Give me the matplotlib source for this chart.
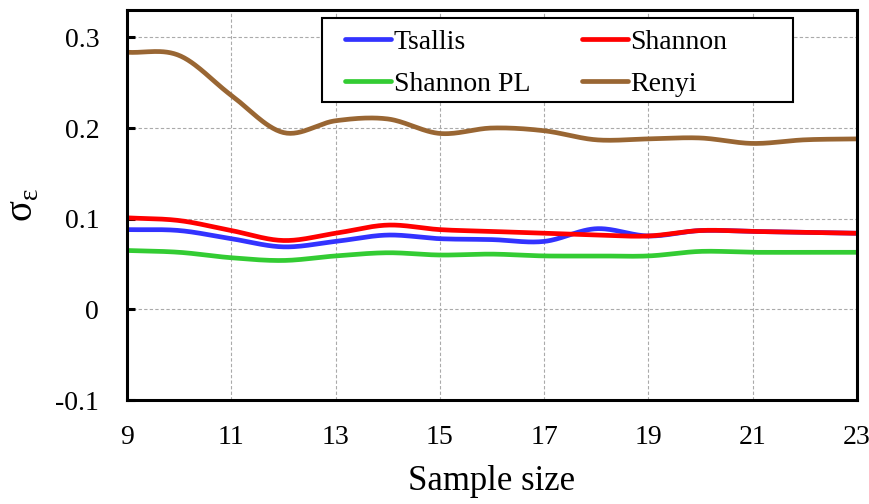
import numpy as np
import matplotlib
matplotlib.use("Agg")
import matplotlib.pyplot as plt
from matplotlib.patches import Rectangle

# -----------------------------
# Data
# -----------------------------
sample_size = [9, 10, 11, 12, 13, 14, 15, 16, 17, 18, 19, 20, 21, 22, 23]

tsallis    = [0.088, 0.087, 0.078, 0.069, 0.075, 0.082, 0.078, 0.077, 0.075, 0.089, 0.081, 0.087, 0.086, 0.085, 0.084]
shannon    = [0.101, 0.098, 0.087, 0.076, 0.084, 0.093, 0.088, 0.086, 0.084, 0.082, 0.081, 0.087, 0.086, 0.085, 0.084]
shannon_pl = [0.065, 0.063, 0.057, 0.054, 0.059, 0.0625, 0.060, 0.061, 0.059, 0.059, 0.059, 0.064, 0.063, 0.063, 0.063]
renyi      = [0.2835, 0.280, 0.236, 0.195, 0.208, 0.210, 0.194, 0.200, 0.197, 0.187, 0.188, 0.189, 0.183, 0.187, 0.188]

series = [
    ("Tsallis", tsallis, "#3333ff"),
    ("Shannon", shannon, "#ff0000"),
    ("Shannon PL", shannon_pl, "#33cc33"),
    ("Renyi", renyi, "#996633"),
]


# -----------------------------
# Excel-like smoothed line (Catmull-Rom through the points)
# -----------------------------
def smooth(x, y, n=30):
    x = np.asarray(x, float)
    y = np.asarray(y, float)
    px = np.concatenate([[2 * x[0] - x[1]], x, [2 * x[-1] - x[-2]]])
    py = np.concatenate([[2 * y[0] - y[1]], y, [2 * y[-1] - y[-2]]])
    xs, ys = [], []
    t = np.linspace(0, 1, n, endpoint=False)
    for i in range(1, len(px) - 2):
        for p, out in ((px, xs), (py, ys)):
            p0, p1, p2, p3 = p[i - 1], p[i], p[i + 1], p[i + 2]
            out.append(0.5 * (2 * p1 + (-p0 + p2) * t
                              + (2 * p0 - 5 * p1 + 4 * p2 - p3) * t ** 2
                              + (-p0 + 3 * p1 - 3 * p2 + p3) * t ** 3))
    xs.append([x[-1]])
    ys.append([y[-1]])
    return np.concatenate(xs), np.concatenate(ys)


# -----------------------------
# Plot
# -----------------------------
plt.rcParams["font.family"] = ["Liberation Serif", "DejaVu Serif"]

fig = plt.figure(figsize=(8.7, 5.04), dpi=100)
ax = fig.add_axes([0.146, 0.206, 0.839, 0.774])

lines = {}
for name, vals, col in series:
    sx, sy = smooth(sample_size, vals)
    lines[name], = ax.plot(sx, sy, color=col, lw=3.4, label=name, solid_capstyle="round")

ax.set_xlim(9, 23)
ax.set_ylim(-0.1, 0.33)
ax.set_xticks(range(9, 24, 2))
ax.set_yticks([-0.1, 0, 0.1, 0.2, 0.3])
ax.set_yticklabels(["-0.1", "0", "0.1", "0.2", "0.3"])

ax.grid(True, color="#aaaaaa", linestyle=(0, (3, 2)), linewidth=0.8)
ax.set_axisbelow(True)

for sp in ax.spines.values():
    sp.set_linewidth(2.2)

ax.tick_params(axis="y", direction="in", length=6, width=2.2, pad=20, labelsize=20)
ax.tick_params(axis="x", length=0, pad=18, labelsize=20)

ax.set_xlabel("Sample size", fontsize=25, labelpad=11)
ax.set_ylabel("σ$_{\\mathregular{ε}}$", fontsize=28, labelpad=10, rotation=90)

# row-wise legend order: Tsallis, Shannon / Shannon PL, Renyi
order = ["Tsallis", "Shannon PL", "Shannon", "Renyi"]
leg = ax.legend([lines[k] for k in order], order, ncol=2, loc="upper left",
                bbox_to_anchor=(0.299, 0.95), frameon=False,
                fontsize=20, handlelength=1.65, handletextpad=0.1,
                borderpad=0, labelspacing=0.6, columnspacing=1.85,
                borderaxespad=0)
# legend box (wider than its contents, as in the reference)
ax.add_patch(Rectangle((0.267, 0.764), 0.645, 0.215, transform=ax.transAxes,
                       facecolor="white", edgecolor="black", lw=1.5, zorder=4.5))
leg.set_zorder(5)

plt.savefig("out.png", dpi=100)
